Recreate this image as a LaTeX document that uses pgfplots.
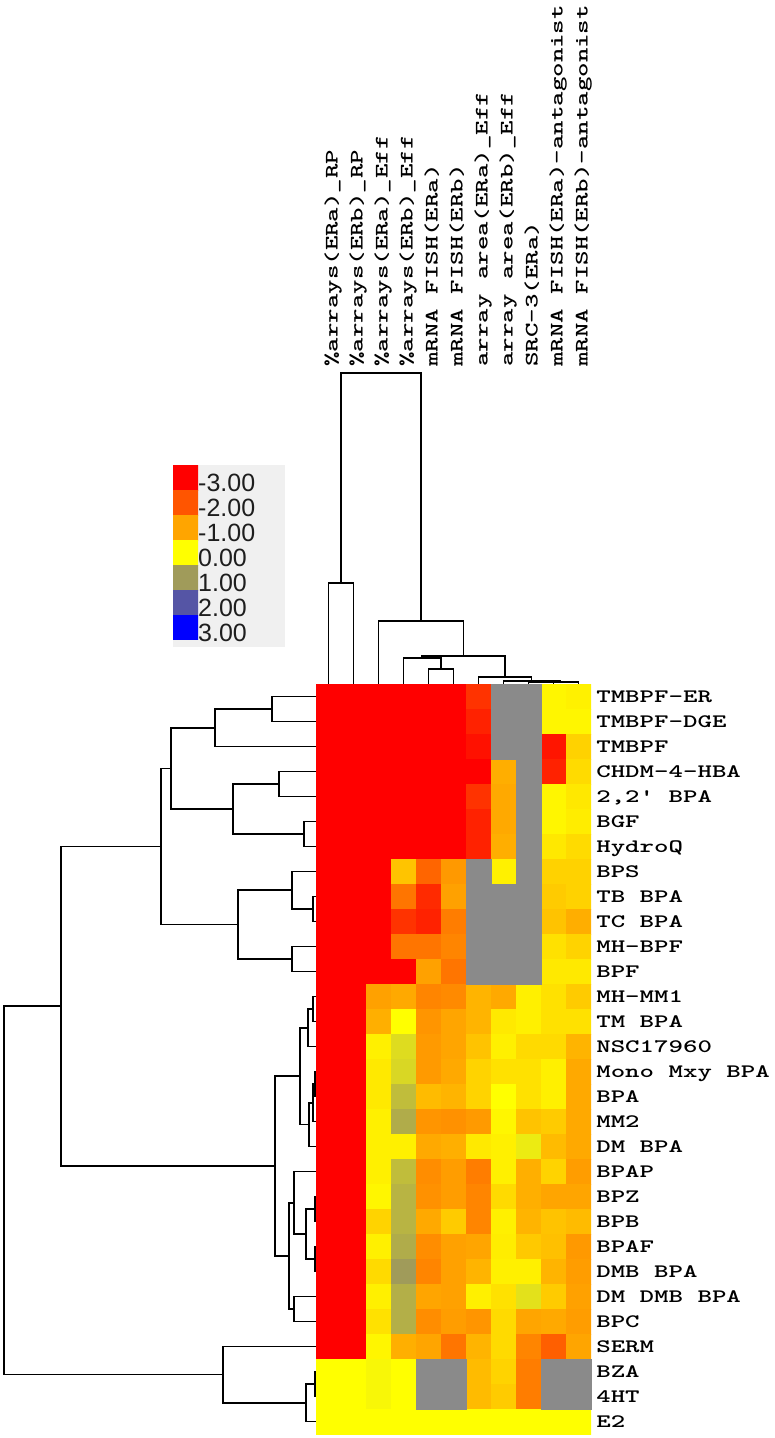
\documentclass[border=0pt]{standalone}
\usepackage{fontspec}
\usepackage{pgfplots}
\pgfplotsset{compat=1.18}
\setmainfont{Liberation Sans}
\definecolor{gmiss}{RGB}{138,138,138}
\definecolor{panel}{RGB}{240,240,240}
\definecolor{legtext}{RGB}{30,30,30}
\pgfplotsset{colormap={hm}{rgb255(0cm)=(255,0,0); rgb255(1cm)=(255,85,0); rgb255(2cm)=(255,165,0); rgb255(3cm)=(255,255,0); rgb255(4cm)=(160,155,90); rgb255(5cm)=(85,85,165); rgb255(6cm)=(0,0,255)}}
\tikzset{dl/.style={black, line width=1.6pt, line join=miter}}
\newcommand\lblfont{\ttfamily\bfseries\fontsize{19}{19}\selectfont}
\begin{document}
\begin{tikzpicture}
\path[use as bounding box] (0,0) rectangle (774pt,1438pt);
% ---------- dendrograms and legend panel (pixel coordinates) ----------
\begin{axis}[at={(0pt,0pt)}, anchor=south west, width=774pt, height=1438pt, scale only axis,
  xmin=0, xmax=774, ymin=0, ymax=1438, y dir=reverse, hide axis, clip=false]
\addplot[fill=panel, draw=none] coordinates {(173,465) (285,465) (285,647) (173,647)} -- cycle;
% row dendrogram
\addplot[dl] coordinates {(316,696.5) (272,696.5) (272,721.5) (316,721.5)};
\addplot[dl] coordinates {(272,709) (215,709) (215,746.5) (316,746.5)};
\addplot[dl] coordinates {(316,771.5) (279,771.5) (279,796.5) (316,796.5)};
\addplot[dl] coordinates {(316,821.5) (304,821.5) (304,846.5) (316,846.5)};
\addplot[dl] coordinates {(279,784) (233,784) (233,834) (304,834)};
\addplot[dl] coordinates {(215,727.75) (171,727.75) (171,809) (233,809)};
\addplot[dl] coordinates {(316,896.5) (313,896.5) (313,921.5) (316,921.5)};
\addplot[dl] coordinates {(316,871.5) (292,871.5) (292,909) (313,909)};
\addplot[dl] coordinates {(316,946.5) (292,946.5) (292,971.5) (316,971.5)};
\addplot[dl] coordinates {(292,890.25) (238,890.25) (238,959) (292,959)};
\addplot[dl] coordinates {(171,768.4) (161,768.4) (161,924.6) (238,924.6)};
\addplot[dl] coordinates {(316,996.5) (313,996.5) (313,1021.5) (316,1021.5)};
\addplot[dl] coordinates {(313,1009) (308,1009) (308,1046.5) (316,1046.5)};
\addplot[dl] coordinates {(316,1071.5) (315,1071.5) (315,1096.5) (316,1096.5)};
\addplot[dl] coordinates {(315,1084) (313,1084) (313,1121.5) (316,1121.5)};
\addplot[dl] coordinates {(313,1102.75) (309,1102.75) (309,1146.5) (316,1146.5)};
\addplot[dl] coordinates {(308,1027.75) (300,1027.75) (300,1124.6) (309,1124.6)};
\addplot[dl] coordinates {(316,1196.5) (315,1196.5) (315,1221.5) (316,1221.5)};
\addplot[dl] coordinates {(316,1246.5) (315,1246.5) (315,1271.5) (316,1271.5)};
\addplot[dl] coordinates {(315,1209) (306,1209) (306,1259) (315,1259)};
\addplot[dl] coordinates {(316,1171.5) (294,1171.5) (294,1234) (306,1234)};
\addplot[dl] coordinates {(316,1296.5) (294,1296.5) (294,1321.5) (316,1321.5)};
\addplot[dl] coordinates {(294,1202.75) (289,1202.75) (289,1309) (294,1309)};
\addplot[dl] coordinates {(300,1076.2) (275,1076.2) (275,1255.9) (289,1255.9)};
\addplot[dl] coordinates {(161,846.5) (61,846.5) (61,1166) (275,1166)};
\addplot[dl] coordinates {(316,1371.5) (315,1371.5) (315,1396.5) (316,1396.5)};
\addplot[dl] coordinates {(315,1384) (306,1384) (306,1421.5) (316,1421.5)};
\addplot[dl] coordinates {(316,1346.5) (223,1346.5) (223,1402.75) (306,1402.75)};
\addplot[dl] coordinates {(61,1006.25) (4,1006.25) (4,1374.6) (223,1374.6)};
% column dendrogram
\addplot[dl] coordinates {(528.5,684) (528.5,682.5) (553.5,682.5) (553.5,684)};
\addplot[dl] coordinates {(541,682.5) (541,682) (578.5,682) (578.5,684)};
\addplot[dl] coordinates {(503.5,684) (503.5,681) (559.75,681) (559.75,682)};
\addplot[dl] coordinates {(478.5,684) (478.5,677) (531.6,677) (531.6,681)};
\addplot[dl] coordinates {(428.5,684) (428.5,669) (453.5,669) (453.5,684)};
\addplot[dl] coordinates {(403.5,684) (403.5,658) (441,658) (441,669)};
\addplot[dl] coordinates {(422.25,658) (422.25,656) (505,656) (505,677)};
\addplot[dl] coordinates {(378.5,684) (378.5,621) (463.6,621) (463.6,656)};
\addplot[dl] coordinates {(328.5,684) (328.5,583) (353.5,583) (353.5,684)};
\addplot[dl] coordinates {(341,583) (341,373) (421,373) (421,621)};
\end{axis}
% ---------- colour legend ----------
\begin{axis}[at={(173pt,798pt)}, anchor=south west, width=25pt, height=175pt, scale only axis,
  enlargelimits=false, xmin=-0.5, xmax=1.5, ymin=-0.5, ymax=6.5, y dir=reverse,
  colormap name=hm, point meta min=-3, point meta max=3,
  axis line style={draw=none}, tick style={draw=none}, major tick length=0pt,
  xtick=\empty, ytick={0,...,6},
  yticklabels={-3.00,-2.00,-1.00,0.00,1.00,2.00,3.00},
  yticklabel pos=right,
  yticklabel style={font=\fontsize{25}{25}\selectfont, text=legtext, anchor=west, inner sep=0pt, yshift=-5pt}]
\addplot[matrix plot*, mesh/cols=2, point meta=explicit] table[meta=v, row sep=\\] {x y v\\ 0 0 -3\\ 1 0 -3\\ 0 1 -2\\ 1 1 -2\\ 0 2 -1\\ 1 2 -1\\ 0 3 0\\ 1 3 0\\ 0 4 1\\ 1 4 1\\ 0 5 2\\ 1 5 2\\ 0 6 3\\ 1 6 3\\};
\end{axis}
% ---------- heat map ----------
\begin{axis}[at={(316pt,4pt)}, anchor=south west, width=275pt, height=750pt, scale only axis,
  enlargelimits=false, xmin=-0.5, xmax=10.5, ymin=-0.5, ymax=29.5, y dir=reverse,
  colormap name=hm, point meta min=-3, point meta max=3,
  axis line style={draw=none}, tick style={draw=none}, major tick length=0pt,
  xtick={0,...,10}, ytick={0,...,29},
  xticklabel pos=upper, yticklabel pos=right,
  xticklabels={\%arrays(ERa)\_RP,\%arrays(ERb)\_RP,\%arrays(ERa)\_Eff,\%arrays(ERb)\_Eff,mRNA FISH(ERa),mRNA FISH(ERb),array area(ERa)\_Eff,array area(ERb)\_Eff,SRC-3(ERa),mRNA FISH(ERa)-antagonist,mRNA FISH(ERb)-antagonist},
  yticklabels={TMBPF-ER,TMBPF-DGE,TMBPF,CHDM-4-HBA,{2,2\textquotesingle{} BPA},BGF,HydroQ,BPS,TB BPA,TC BPA,MH-BPF,BPF,MH-MM1,TM BPA,NSC17960,Mono Mxy BPA,BPA,MM2,DM BPA,BPAP,BPZ,BPB,BPAF,DMB BPA,DM DMB BPA,BPC,SERM,BZA,4HT,E2},
  xticklabel style={xshift=3pt, rotate=90, xscale=1.45, anchor=west, inner sep=0pt, font=\lblfont, text height=15pt, text depth=3pt},
  xticklabel shift=317pt,
  yticklabel style={xscale=1.45, anchor=west, inner sep=0pt, font=\lblfont, text height=15pt, text depth=3pt},
  yticklabel shift=5pt]
\addplot[matrix plot*, mesh/cols=11, point meta=explicit] table[meta=v, row sep=\\] {
x y v\\
0 0 -3\\ 1 0 -3\\ 2 0 -3\\ 3 0 -3\\ 4 0 -3\\ 5 0 -3\\ 6 0 -2.4\\ 7 0 0\\ 8 0 0\\ 9 0 -0.1\\ 10 0 -0.15\\
0 1 -3\\ 1 1 -3\\ 2 1 -3\\ 3 1 -3\\ 4 1 -3\\ 5 1 -3\\ 6 1 -2.6\\ 7 1 0\\ 8 1 0\\ 9 1 -0.1\\ 10 1 -0.1\\
0 2 -3\\ 1 2 -3\\ 2 2 -3\\ 3 2 -3\\ 4 2 -3\\ 5 2 -3\\ 6 2 -2.8\\ 7 2 0\\ 8 2 0\\ 9 2 -2.75\\ 10 2 -0.5\\
0 3 -3\\ 1 3 -3\\ 2 3 -3\\ 3 3 -3\\ 4 3 -3\\ 5 3 -3\\ 6 3 -3\\ 7 3 -0.9\\ 8 3 0\\ 9 3 -2.6\\ 10 3 -0.4\\
0 4 -3\\ 1 4 -3\\ 2 4 -3\\ 3 4 -3\\ 4 4 -3\\ 5 4 -3\\ 6 4 -2.4\\ 7 4 -0.95\\ 8 4 0\\ 9 4 -0.1\\ 10 4 -0.25\\
0 5 -3\\ 1 5 -3\\ 2 5 -3\\ 3 5 -3\\ 4 5 -3\\ 5 5 -3\\ 6 5 -2.6\\ 7 5 -0.95\\ 8 5 0\\ 9 5 -0.1\\ 10 5 -0.2\\
0 6 -3\\ 1 6 -3\\ 2 6 -3\\ 3 6 -3\\ 4 6 -3\\ 5 6 -3\\ 6 6 -2.6\\ 7 6 -0.9\\ 8 6 0\\ 9 6 -0.25\\ 10 6 -0.4\\
0 7 -3\\ 1 7 -3\\ 2 7 -3\\ 3 7 -0.65\\ 4 7 -1.8\\ 5 7 -1.15\\ 6 7 0\\ 7 7 -0.15\\ 8 7 0\\ 9 7 -0.5\\ 10 7 -0.5\\
0 8 -3\\ 1 8 -3\\ 2 8 -3\\ 3 8 -1.6\\ 4 8 -2.5\\ 5 8 -1.05\\ 6 8 0\\ 7 8 0\\ 8 8 0\\ 9 8 -0.58\\ 10 8 -0.5\\
0 9 -3\\ 1 9 -3\\ 2 9 -3\\ 3 9 -2.4\\ 4 9 -2.6\\ 5 9 -1.5\\ 6 9 0\\ 7 9 0\\ 8 9 0\\ 9 9 -0.66\\ 10 9 -0.9\\
0 10 -3\\ 1 10 -3\\ 2 10 -3\\ 3 10 -1.6\\ 4 10 -1.6\\ 5 10 -1.4\\ 6 10 0\\ 7 10 0\\ 8 10 0\\ 9 10 -0.33\\ 10 10 -0.49\\
0 11 -3\\ 1 11 -3\\ 2 11 -3\\ 3 11 -3\\ 4 11 -1.05\\ 5 11 -1.6\\ 6 11 0\\ 7 11 0\\ 8 11 0\\ 9 11 -0.24\\ 10 11 -0.24\\
0 12 -3\\ 1 12 -3\\ 2 12 -1.05\\ 3 12 -0.95\\ 4 12 -1.4\\ 5 12 -1.34\\ 6 12 -0.83\\ 7 12 -0.95\\ 8 12 -0.16\\ 9 12 -0.33\\ 10 12 -0.58\\
0 13 -3\\ 1 13 -3\\ 2 13 -0.89\\ 3 13 0\\ 4 13 -1.2\\ 5 13 -1.0\\ 6 13 -0.83\\ 7 13 -0.24\\ 8 13 -0.16\\ 9 13 -0.33\\ 10 13 -0.33\\
0 14 -3\\ 1 14 -3\\ 2 14 -0.16\\ 3 14 0.35\\ 4 14 -1.14\\ 5 14 -1.0\\ 6 14 -0.66\\ 7 14 -0.16\\ 8 14 -0.41\\ 9 14 -0.41\\ 10 14 -0.83\\
0 15 -3\\ 1 15 -3\\ 2 15 -0.24\\ 3 15 0.4\\ 4 15 -1.14\\ 5 15 -0.95\\ 6 15 -0.49\\ 7 15 -0.33\\ 8 15 -0.33\\ 9 15 -0.16\\ 10 15 -0.95\\
0 16 -3\\ 1 16 -3\\ 2 16 -0.24\\ 3 16 0.66\\ 4 16 -0.75\\ 5 16 -0.83\\ 6 16 -0.49\\ 7 16 0\\ 8 16 -0.33\\ 9 16 -0.16\\ 10 16 -0.95\\
0 17 -3\\ 1 17 -3\\ 2 17 -0.16\\ 3 17 0.83\\ 4 17 -1.2\\ 5 17 -1.25\\ 6 17 -1.14\\ 7 17 -0.1\\ 8 17 -0.66\\ 9 17 -0.58\\ 10 17 -0.95\\
0 18 -3\\ 1 18 -3\\ 2 18 -0.16\\ 3 18 -0.16\\ 4 18 -0.95\\ 5 18 -0.89\\ 6 18 -0.24\\ 7 18 -0.16\\ 8 18 0.2\\ 9 18 -0.75\\ 10 18 -0.95\\
0 19 -3\\ 1 19 -3\\ 2 19 -0.16\\ 3 19 0.66\\ 4 19 -1.3\\ 5 19 -1.1\\ 6 19 -1.5\\ 7 19 -0.16\\ 8 19 -0.89\\ 9 19 -0.49\\ 10 19 -1.1\\
0 20 -3\\ 1 20 -3\\ 2 20 -0.1\\ 3 20 0.75\\ 4 20 -1.25\\ 5 20 -1.1\\ 6 20 -1.4\\ 7 20 -0.41\\ 8 20 -0.89\\ 9 20 -1.0\\ 10 20 -1.0\\
0 21 -3\\ 1 21 -3\\ 2 21 -0.49\\ 3 21 0.75\\ 4 21 -0.95\\ 5 21 -0.58\\ 6 21 -1.4\\ 7 21 -0.16\\ 8 21 -0.83\\ 9 21 -0.66\\ 10 21 -0.75\\
0 22 -3\\ 1 22 -3\\ 2 22 -0.16\\ 3 22 0.83\\ 4 22 -1.3\\ 5 22 -1.05\\ 6 22 -1.0\\ 7 22 -0.2\\ 8 22 -0.6\\ 9 22 -0.7\\ 10 22 -1.15\\
0 23 -3\\ 1 23 -3\\ 2 23 -0.41\\ 3 23 1.0\\ 4 23 -1.4\\ 5 23 -1.05\\ 6 23 -0.83\\ 7 23 -0.16\\ 8 23 -0.16\\ 9 23 -0.83\\ 10 23 -1.1\\
0 24 -3\\ 1 24 -3\\ 2 24 -0.16\\ 3 24 0.8\\ 4 24 -1.0\\ 5 24 -1.05\\ 6 24 -0.16\\ 7 24 -0.33\\ 8 24 0.3\\ 9 24 -0.58\\ 10 24 -1.05\\
0 25 -3\\ 1 25 -3\\ 2 25 -0.33\\ 3 25 0.8\\ 4 25 -1.3\\ 5 25 -1.1\\ 6 25 -1.2\\ 7 25 -0.41\\ 8 25 -1.0\\ 9 25 -0.95\\ 10 25 -1.1\\
0 26 -3\\ 1 26 -3\\ 2 26 -0.1\\ 3 26 -0.89\\ 4 26 -1.0\\ 5 26 -1.6\\ 6 26 -0.83\\ 7 26 -0.41\\ 8 26 -1.4\\ 9 26 -1.88\\ 10 26 -1.0\\
0 27 0\\ 1 27 0\\ 2 27 0.08\\ 3 27 0\\ 4 27 0\\ 5 27 0\\ 6 27 -0.75\\ 7 27 -0.49\\ 8 27 -1.5\\ 9 27 0\\ 10 27 0\\
0 28 0\\ 1 28 0\\ 2 28 0.08\\ 3 28 0\\ 4 28 0\\ 5 28 0\\ 6 28 -0.75\\ 7 28 -0.58\\ 8 28 -1.5\\ 9 28 0\\ 10 28 0\\
0 29 0\\ 1 29 0\\ 2 29 0\\ 3 29 0\\ 4 29 0\\ 5 29 0\\ 6 29 0\\ 7 29 0\\ 8 29 0\\ 9 29 0\\ 10 29 0\\
};
% missing values (grey)
\addplot[only marks, mark=square*, mark size=12.5pt, mark options={fill=gmiss, draw=gmiss, line width=0.4pt}] table[row sep=\\] {
x y\\ 7 0\\ 8 0\\ 7 1\\ 8 1\\ 7 2\\ 8 2\\ 8 3\\ 8 4\\ 8 5\\ 8 6\\ 6 7\\ 8 7\\
6 8\\ 7 8\\ 8 8\\ 6 9\\ 7 9\\ 8 9\\ 6 10\\ 7 10\\ 8 10\\ 6 11\\ 7 11\\ 8 11\\
4 27\\ 5 27\\ 9 27\\ 10 27\\ 4 28\\ 5 28\\ 9 28\\ 10 28\\
};
\end{axis}
\end{tikzpicture}
\end{document}
